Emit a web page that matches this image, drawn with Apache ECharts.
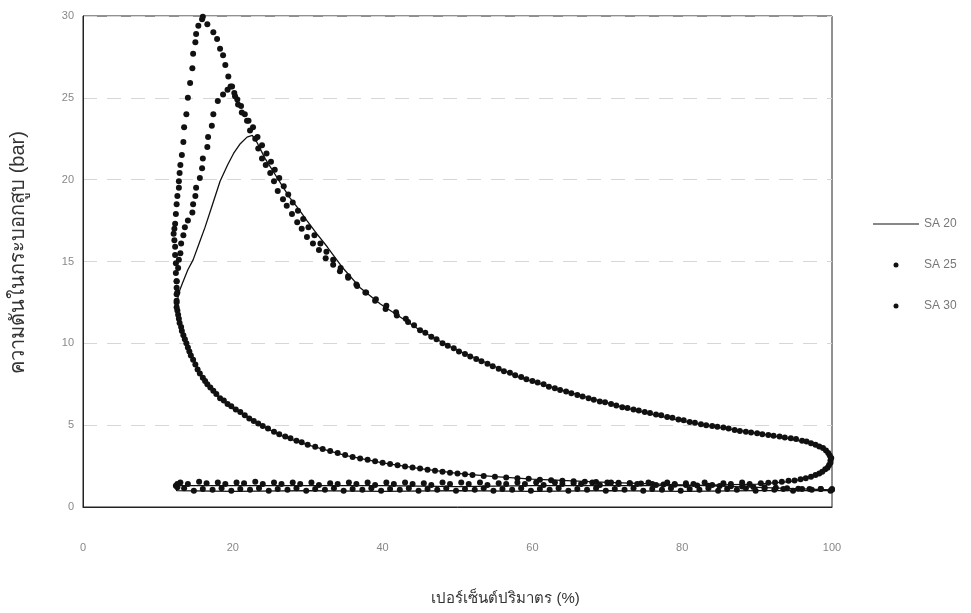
<!DOCTYPE html>
<html>
<head>
<meta charset="utf-8">
<script src="https://cdn.jsdelivr.net/npm/echarts@6/dist/echarts.min.js"></script>
<style>html,body{margin:0;padding:0;background:#fff;}#c{width:971px;height:613px;}</style>
</head>
<body>
<div id="c"></div>
<script>
// ---- axis / labels ----
const xTitle = 'เปอร์เซ็นต์ปริมาตร (%)';
const yTitle = 'ความดันในกระบอกสูบ (bar)';
const seriesNames = ['SA 20', 'SA 25', 'SA 30'];

// ---- SA 20 (solid line) : [volume %, pressure bar] ----
const sa20Compression = [[100,1.05],[90,1.2],[80,1.35],[70,1.5],[60,1.7],[55,1.85],[50,2.05],[45,2.35],[40,2.7],[35,3.15],[30,3.8],[27,4.25],[25,4.7],[22,5.5],[20,6.0],[18.3,6.6],[16,7.9],[14.7,9.1],[13.9,10.0],[13,10.8],[12.6,11.8],[12.6,12.6]];
const sa20Combustion = [[12.8,13.1],[13.3,13.7],[14.0,14.5],[14.7,15.1],[15.5,16.1],[16.3,17.1],[17.3,18.5],[18.3,19.9],[19.3,20.9],[20.1,21.6],[21.0,22.2],[21.9,22.6],[22.6,22.7]];
const sa20Expansion = [[23.2,22.3],[24.3,21.3],[25.4,20.5],[26.5,19.7],[27.6,18.9],[28.8,18.2],[29.9,17.5],[31.2,16.7],[32.6,15.9],[34.7,14.6],[37.0,13.4],[39.7,12.4],[42.7,11.5],[45.0,10.8],[49.4,9.7],[53.9,8.8],[58.3,7.9],[62.8,7.3],[67.3,6.7],[71.7,6.15],[76.1,5.65],[80.6,5.2],[85.0,4.85],[89.5,4.55],[94.0,4.2],[97.5,3.85],[99.3,3.4],[99.7,3.0],[99.4,2.5],[98.3,2.05],[96.5,1.75],[94.4,1.55],[90,1.4]];
const sa20Exhaust = [[80,1.3],[70,1.3],[60,1.3],[50,1.25],[40,1.3],[30,1.3],[20,1.3],[15,1.3],[12.4,1.3]];
const sa20Intake = [[12.5,1.0],[20,0.95],[30,1.0],[40,0.95],[50,1.0],[60,0.95],[70,1.0],[80,0.95],[90,1.0],[100,1.0]];

// ---- SA 25 (dots) ----
const sa25Compression = [[100,1.05],[97,1.1],[94,1.15],[91,1.2],[88,1.25],[85,1.28],[82,1.32],[79,1.36],[76,1.4],[73,1.45],[70,1.5],[67,1.55],[64,1.6],[61,1.67],[58,1.75],[55,1.85],[52,1.95],[50,2.05],[48,2.15],[46,2.28],[44,2.42],[42,2.55],[40,2.7],[38,2.88],[36,3.05],[34,3.3],[32,3.55],[30,3.8],[28.5,4.05],[27,4.3],[25.5,4.6],[24,4.95],[22.8,5.25],[21.6,5.6],[20.4,5.95],[19.3,6.3],[18.3,6.65],[17.4,7.1],[16.6,7.5],[16,7.9],[15.3,8.4],[14.7,9.0],[14.2,9.5],[13.8,10.0],[13.4,10.5],[13.1,11.0],[12.8,11.5],[12.6,12.0],[12.5,12.5],[12.6,13.1]];
const sa25Combustion = [[12.5,13.8],[12.7,14.6],[12.8,15.1],[13.0,15.5],[13.1,16.1],[13.4,16.6],[13.6,17.1],[14.0,17.5],[14.6,18.0],[14.7,18.5],[15.0,19.0],[15.1,19.5],[15.6,20.1],[15.9,20.7],[16.0,21.3],[16.6,22.0],[16.7,22.6],[17.2,23.3],[17.4,24.0],[18.0,24.8],[18.7,25.2],[19.3,25.5],[19.7,25.7]];
const sa25Expansion = [[20.2,25.3],[20.6,24.9],[21.1,24.5],[21.6,24.0],[22.1,23.6],[22.7,23.2],[23.3,22.6],[23.9,22.1],[24.5,21.6],[25.1,21.1],[25.6,20.6],[26.2,20.1],[26.8,19.6],[27.4,19.1],[28.0,18.6],[28.7,18.1],[29.4,17.6],[30.1,17.1],[30.9,16.6],[31.7,16.1],[32.5,15.6],[33.4,15.1],[34.4,14.6],[35.4,14.1],[36.5,13.6],[37.7,13.1],[39.0,12.6],[40.4,12.1],[41.9,11.7],[43.4,11.3],[45,10.8],[46.5,10.4],[48,10.0],[49.5,9.7],[51,9.35],[52.5,9.05],[54,8.75],[55.5,8.45],[57,8.2],[58.5,7.95],[60,7.7],[61.5,7.5],[63,7.25],[64.5,7.05],[66,6.85],[67.5,6.65],[69,6.45],[70.5,6.3],[72,6.1],[73.5,5.95],[75,5.8],[76.5,5.65],[78,5.5],[79.5,5.35],[81,5.2],[82.5,5.05],[84,4.95],[85.5,4.85],[87,4.7],[88.5,4.6],[90,4.5],[91.5,4.4],[93,4.3],[94.5,4.2],[96,4.05],[97.2,3.9],[98.3,3.7],[99.2,3.45],[99.7,3.15],[99.8,2.85],[99.6,2.55],[99.1,2.3],[98.3,2.05],[97.2,1.85],[95.8,1.7],[94.2,1.6],[92.4,1.5],[90.5,1.45]];
const sa25Exhaust = [[88,1.5],[85.5,1.45],[83,1.5],[80.5,1.45],[78,1.5],[75.5,1.5],[73,1.45],[70.5,1.5],[68,1.5],[65.5,1.45],[63,1.5],[60.5,1.5],[58,1.5],[55.5,1.45],[53,1.5],[50.5,1.5],[48,1.5],[45.5,1.45],[43,1.5],[40.5,1.5],[38,1.5],[35.5,1.5],[33,1.45],[30.5,1.5],[28,1.5],[25.5,1.5],[23,1.55],[20.5,1.5],[18,1.5],[15.5,1.55],[13,1.5],[12.4,1.3]];
const sa25Intake = [[13.5,1.15],[16,1.1],[18.5,1.15],[21,1.1],[23.5,1.15],[26,1.1],[28.5,1.15],[31,1.1],[33.5,1.15],[36,1.1],[38.5,1.15],[41,1.1],[43.5,1.15],[46,1.1],[48.5,1.15],[51,1.1],[53.5,1.15],[56,1.1],[58.5,1.15],[61,1.1],[63.5,1.15],[66,1.1],[68.5,1.15],[71,1.1],[73.5,1.15],[76,1.1],[78.5,1.15],[81,1.1],[83.5,1.15],[86,1.1],[88.5,1.15],[91,1.1],[93.5,1.1],[96,1.1],[98.5,1.1],[100,1.1]];

// ---- SA 30 (dots) ----
const sa30Compression = [[98.5,1.1],[95.5,1.12],[92.5,1.18],[89.5,1.22],[86.5,1.27],[83.5,1.3],[80.5,1.34],[77.5,1.38],[74.5,1.43],[71.5,1.48],[68.5,1.52],[65.5,1.58],[62.5,1.64],[59.5,1.72],[56.5,1.8],[53.5,1.9],[51,2.0],[49,2.1],[47,2.22],[45,2.35],[43,2.48],[41,2.62],[39,2.8],[37,2.97],[35,3.18],[33,3.42],[31,3.68],[29.2,3.95],[27.7,4.2],[26.2,4.45],[24.7,4.8],[23.4,5.1],[22.2,5.4],[21,5.8],[19.8,6.15],[18.8,6.5],[17.8,6.9],[17,7.3],[16.3,7.7],[15.6,8.15],[15,8.7],[14.4,9.25],[14,9.75],[13.6,10.25],[13.2,10.75],[12.9,11.25],[12.7,11.75],[12.5,12.2]];
const sa30Combustion = [[12.5,12.6],[12.5,13.0],[12.5,13.4],[12.5,13.8],[12.4,14.3],[12.4,14.9],[12.3,15.4],[12.3,15.9],[12.2,16.3],[12.1,16.7],[12.2,17.0],[12.3,17.3],[12.4,17.9],[12.5,18.5],[12.6,19.0],[12.8,19.5],[12.8,19.9],[12.9,20.4],[13.0,20.9],[13.2,21.5],[13.4,22.3],[13.5,23.2],[13.8,24.0],[14.0,25.0],[14.3,25.9],[14.6,26.8],[14.7,27.7],[15.0,28.4],[15.1,28.9],[15.4,29.4],[15.9,29.8],[16.0,29.95]];
const sa30Expansion = [[16.6,29.5],[17.4,29.0],[17.9,28.6],[18.3,28.0],[18.7,27.6],[19.0,27.0],[19.4,26.3],[19.9,25.7],[20.3,25.1],[20.7,24.6],[21.2,24.1],[21.9,23.6],[22.3,23.0],[23.0,22.5],[23.4,21.9],[23.9,21.3],[24.4,20.9],[25.0,20.4],[25.5,19.9],[26.0,19.3],[26.7,18.8],[27.2,18.4],[27.9,17.9],[28.6,17.4],[29.2,17.0],[29.9,16.5],[30.7,16.1],[31.5,15.7],[32.4,15.2],[33.4,14.8],[34.3,14.4],[35.4,14.0],[36.6,13.5],[37.8,13.1],[39.1,12.7],[40.5,12.3],[41.8,11.9],[43.1,11.5],[44.2,11.1],[45.7,10.65],[47.2,10.25],[48.7,9.85],[50.2,9.5],[51.7,9.2],[53.2,8.9],[54.7,8.6],[56.2,8.3],[57.7,8.05],[59.2,7.8],[60.7,7.6],[62.2,7.35],[63.7,7.15],[65.2,6.95],[66.7,6.75],[68.2,6.55],[69.7,6.4],[71.2,6.2],[72.7,6.05],[74.2,5.9],[75.7,5.75],[77.2,5.6],[78.7,5.45],[80.2,5.3],[81.7,5.15],[83.2,5.0],[84.7,4.9],[86.2,4.8],[87.7,4.65],[89.2,4.55],[90.7,4.45],[92.2,4.35],[93.7,4.25],[95.2,4.15],[96.6,4.0],[97.8,3.8],[98.8,3.6],[99.5,3.3],[99.9,3.0],[99.8,2.7],[99.4,2.4],[98.7,2.15],[97.8,1.95],[96.5,1.75],[95,1.62],[93.3,1.55],[91.5,1.48]];
const sa30Exhaust = [[89,1.4],[86.5,1.4],[84,1.35],[81.5,1.4],[79,1.4],[76.5,1.35],[74,1.4],[71.5,1.4],[69,1.35],[66.5,1.4],[64,1.4],[61.5,1.35],[59,1.4],[56.5,1.4],[54,1.35],[51.5,1.4],[49,1.4],[46.5,1.35],[44,1.4],[41.5,1.4],[39,1.35],[36.5,1.4],[34,1.4],[31.5,1.35],[29,1.4],[26.5,1.4],[24,1.4],[21.5,1.45],[19,1.4],[16.5,1.45],[14,1.4],[12.6,1.4]];
const sa30Intake = [[12.6,1.2],[14.8,1.0],[17.3,1.05],[19.8,1.0],[22.3,1.05],[24.8,1.0],[27.3,1.05],[29.8,1.0],[32.3,1.05],[34.8,1.0],[37.3,1.05],[39.8,1.0],[42.3,1.05],[44.8,1.0],[47.3,1.05],[49.8,1.0],[52.3,1.05],[54.8,1.0],[57.3,1.05],[59.8,1.0],[62.3,1.05],[64.8,1.0],[67.3,1.05],[69.8,1.0],[72.3,1.05],[74.8,1.0],[77.3,1.05],[79.8,1.0],[82.3,1.05],[84.8,1.0],[87.3,1.05],[89.8,1.0],[92.3,1.05],[94.8,1.0],[97.3,1.05],[99.8,1.0]];

const sa20 = [].concat(sa20Compression, sa20Combustion, sa20Expansion, sa20Exhaust, sa20Intake);
const sa25 = [].concat(sa25Compression, sa25Combustion, sa25Expansion, sa25Exhaust, sa25Intake);
const sa30 = [].concat(sa30Compression, sa30Combustion, sa30Expansion, sa30Exhaust, sa30Intake);

const chart = echarts.init(document.getElementById('c'), null, {renderer: 'canvas'});
const fam = '"Liberation Sans", Arial, "Noto Sans", "DejaVu Sans", sans-serif';
chart.setOption({
  animation: false,
  backgroundColor: '#fff',
  grid: {left: 83, right: 139, top: 16, bottom: 106, show: true, borderColor: '#222', borderWidth: 1, backgroundColor: 'transparent'},
  xAxis: {
    type: 'value', min: 0, max: 100, interval: 20,
    name: xTitle, nameLocation: 'middle', nameGap: 84,
    nameTextStyle: {fontFamily: fam, fontSize: 15, color: '#333', padding: [0, 0, 0, 96]},
    axisLine: {show: true, lineStyle: {color: '#222', width: 1}},
    axisTick: {show: false},
    axisLabel: {margin: 35, color: '#888', fontSize: 11, fontFamily: fam},
    splitLine: {show: false}
  },
  yAxis: {
    type: 'value', min: 0, max: 30, interval: 5,
    name: yTitle, nameLocation: 'middle', nameGap: 55, nameRotate: 90,
    nameTextStyle: {fontFamily: fam, fontSize: 20, color: '#333', padding: [0, 0, 0, 18]},
    axisLine: {show: true, lineStyle: {color: '#222', width: 1}},
    axisTick: {show: false},
    axisLabel: {margin: 9, color: '#888', fontSize: 11, fontFamily: fam},
    splitLine: {show: true, lineStyle: {color: '#d6d6d6', width: 1, type: [14, 10]}}
  },
  legend: {
    orient: 'vertical', left: 868, top: 213,
    itemWidth: 46, itemHeight: 5, itemGap: 29,
    textStyle: {color: '#777', fontSize: 12, fontFamily: fam},
    data: [
      {name: seriesNames[0], icon: 'path://M0,0 L46,0 L46,1.2 L0,1.2 Z'},
      {name: seriesNames[1], icon: 'circle'},
      {name: seriesNames[2], icon: 'circle'}
    ]
  },
  series: [
    {name: seriesNames[0], type: 'line', data: sa20, showSymbol: false, symbol: 'none',
     lineStyle: {color: '#111', width: 1.3}, itemStyle: {color: '#111'}, z: 3},
    {name: seriesNames[1], type: 'scatter', data: sa25, symbol: 'circle', symbolSize: 6,
     itemStyle: {color: '#111', opacity: 1}, z: 2},
    {name: seriesNames[2], type: 'scatter', data: sa30, symbol: 'circle', symbolSize: 6,
     itemStyle: {color: '#111', opacity: 1}, z: 2}
  ]
});
</script>
</body>
</html>
